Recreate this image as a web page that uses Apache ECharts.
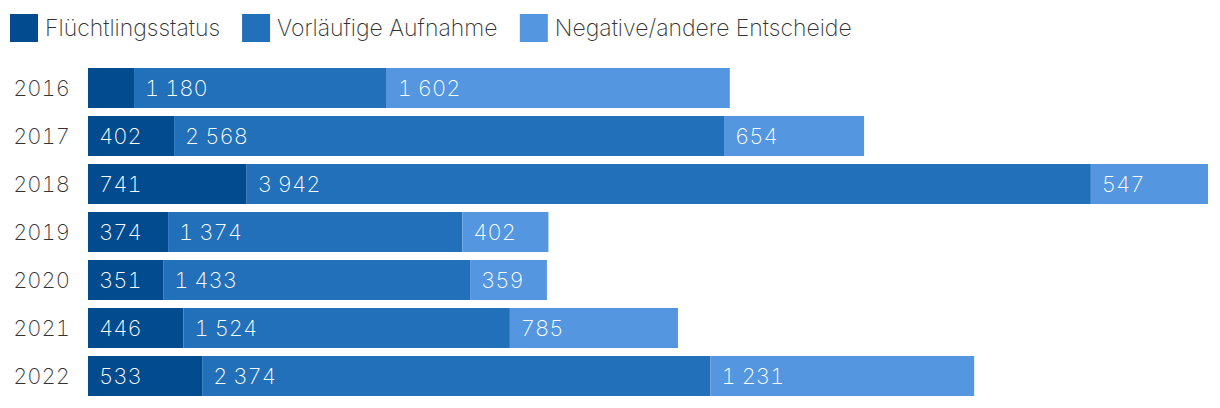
<!DOCTYPE html>
<html><head><meta charset="utf-8">
<script src="https://cdn.jsdelivr.net/npm/echarts@6/dist/echarts.min.js"></script>
<style>html,body{margin:0;padding:0;background:#fff}#c{width:1220px;height:408px}
#c text{font-variant-numeric:tabular-nums;font-feature-settings:"tnum" 1}</style>
</head><body><div id="c"></div>
<script>
const years = ['2016','2017','2018','2019','2020','2021','2022'];
const seriesNames = ['Flüchtlingsstatus','Vorläufige Aufnahme','Negative/andere Entscheide'];
const fluechtling = [215, 402, 741, 374, 351, 446, 533];
const vorlaeufig = [1180, 2568, 3942, 1374, 1433, 1524, 2374];
const negativ = [1602, 654, 547, 402, 359, 785, 1231];
const colors = ['#024b8f', '#2270b9', '#5596e0'];

const fmt = v => String(v).replace(/\B(?=(\d{3})+(?!\d))/g, ' ');
const FONT = 'Inter';
const W = 250;
const mk = (name, data, color) => ({
  name, type: 'bar', stack: 'total', data, barWidth: 40,
  itemStyle: { color },
  label: {
    show: true, position: 'insideLeft', distance: 11,
    color: '#fff', fontFamily: FONT, fontWeight: W, fontSize: 22,
    formatter: p => p.value < 300 ? '' : fmt(p.value)
  },
  emphasis: { disabled: true }
});
const chart = echarts.init(document.getElementById('c'), null, { renderer: 'svg' });
chart.setOption({
  animation: false,
  legend: {
    left: 5, top: 9, itemWidth: 28, itemHeight: 28, itemGap: 22,
    icon: 'rect', selectedMode: false,
    textStyle: { fontFamily: FONT, fontWeight: W, fontSize: 23, color: '#333', padding: [0,0,0,2] },
    data: seriesNames
  },
  grid: { left: 88, right: 12, top: 64, bottom: 8, containLabel: false },
  xAxis: { type: 'value', min: 0, max: 5230, show: false },
  yAxis: {
    type: 'category', data: years, inverse: true,
    axisLine: { show: false }, axisTick: { show: false },
    axisLabel: { fontFamily: FONT, fontWeight: W, fontSize: 22, color: '#333', margin: 18 }
  },
  series: [
    mk(seriesNames[0], fluechtling, colors[0]),
    mk(seriesNames[1], vorlaeufig, colors[1]),
    mk(seriesNames[2], negativ, colors[2])
  ]
});
</script></body></html>
